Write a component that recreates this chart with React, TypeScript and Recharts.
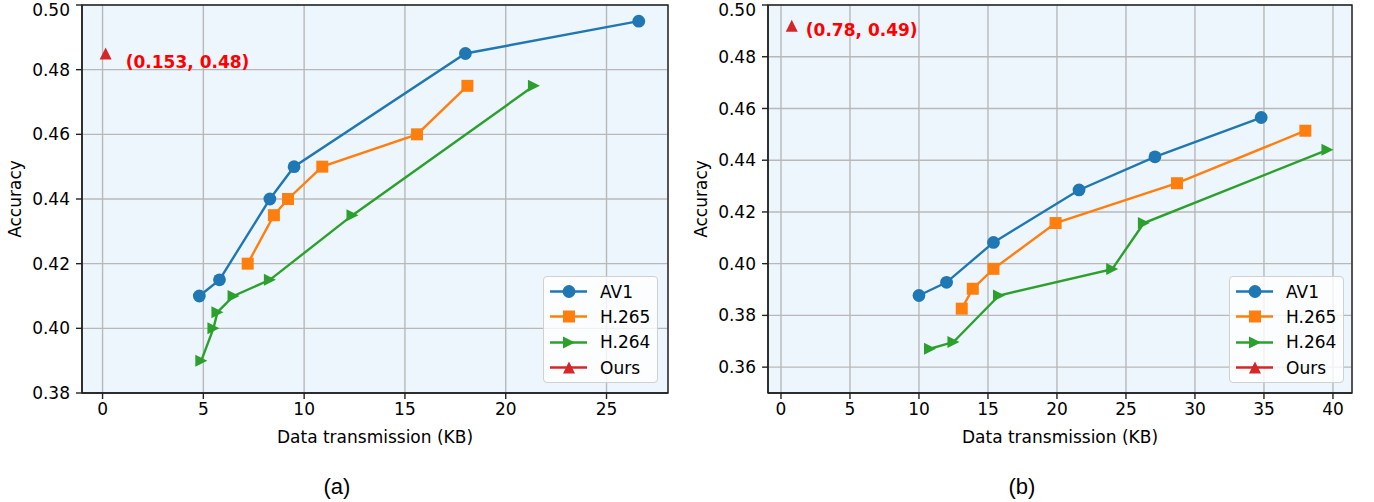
import {
  CartesianGrid,
  Label,
  Legend,
  ReferenceArea,
  ReferenceDot,
  Scatter,
  ScatterChart,
  XAxis,
  YAxis,
} from "recharts";

const seriesNames = ["AV1", "H.265", "H.264", "Ours"];
const seriesColors = ["#1f77b4", "#ff7f0e", "#2ca02c", "#d62728"];
const seriesMarkers = ["circle", "square", "triRight", "triUp"];

// panel (a)
const av1XA = [4.8, 5.8, 8.3, 9.5, 18.0, 26.6];
const av1YA = [0.41, 0.415, 0.44, 0.45, 0.485, 0.495];
const h265XA = [7.2, 8.5, 9.2, 10.9, 15.6, 18.1];
const h265YA = [0.42, 0.435, 0.44, 0.45, 0.46, 0.475];
const h264XA = [4.9, 5.5, 5.7, 6.5, 8.3, 12.4, 21.4];
const h264YA = [0.39, 0.4, 0.405, 0.41, 0.415, 0.435, 0.475];
const oursXA = [0.153];
const oursYA = [0.485];
const noteA = "(0.153, 0.48)";
const notePosA = [1.15, 0.4825];
const xTicksA = [0, 5, 10, 15, 20, 25];
const yTicksA = [0.38, 0.4, 0.42, 0.44, 0.46, 0.48, 0.5];
const xDomainA = [-1.02, 28.05];
const yDomainA = [0.38, 0.5];

// panel (b)
const av1XB = [10.0, 12.0, 15.4, 21.6, 27.1, 34.8];
const av1YB = [0.3877, 0.3928, 0.4082, 0.4285, 0.4413, 0.4565];
const h265XB = [13.1, 13.9, 15.4, 19.9, 28.7, 38.0];
const h265YB = [0.3826, 0.3903, 0.398, 0.4157, 0.4311, 0.4514];
const h264XB = [10.8, 12.5, 15.8, 24.0, 26.3, 39.6];
const h264YB = [0.3671, 0.3697, 0.3877, 0.3979, 0.4157, 0.444];
const oursXB = [0.78];
const oursYB = [0.492];
const noteB = "(0.78, 0.49)";
const notePosB = [1.8, 0.4902];
const xTicksB = [0, 5, 10, 15, 20, 25, 30, 35, 40];
const yTicksB = [0.36, 0.38, 0.4, 0.42, 0.44, 0.46, 0.48, 0.5];
const xDomainB = [-0.94, 41.38];
const yDomainB = [0.35, 0.5];

const FONT = "DejaVu Sans";
const FS = 17;
const MS = 12;

const zip = (xs: number[], ys: number[]) => xs.map((x, i) => ({ x, y: ys[i] }));

function markerPath(kind: string, cx: number, cy: number, color: string) {
  const h = MS / 2;
  if (kind === "circle") return <circle cx={cx} cy={cy} r={h + 0.4} fill={color} />;
  if (kind === "square")
    return <rect x={cx - h} y={cy - h} width={MS} height={MS} fill={color} />;
  if (kind === "triRight")
    return (
      <path
        d={`M${cx + h},${cy} L${cx - h},${cy - h} L${cx - h},${cy + h} Z`}
        fill={color}
      />
    );
  return (
    <path
      d={`M${cx},${cy - h} L${cx + h},${cy + h} L${cx - h},${cy + h} Z`}
      fill={color}
    />
  );
}

const shapeFor = (i: number) => (props: any) =>
  markerPath(seriesMarkers[i], props.cx, props.cy, seriesColors[i]);

function LegendBox() {
  return (
    <div
      style={{
        width: 115,
        height: 107,
        boxSizing: "border-box",
        border: "1px solid #d0d0d0",
        borderRadius: 4,
        background: "rgba(255,255,255,0.8)",
        paddingTop: 2,
        fontFamily: FONT,
        fontSize: FS,
        color: "#000",
      }}
    >
      {seriesNames.map((name, i) => (
        <div key={name} style={{ display: "flex", alignItems: "center", height: 25.3 }}>
          <svg width={56} height={25} style={{ flex: "none" }}>
            <line x1={6} x2={43} y1={12.5} y2={12.5} stroke={seriesColors[i]} strokeWidth={2.4} />
            {markerPath(seriesMarkers[i], 25, 12.5, seriesColors[i])}
          </svg>
          <span>{name}</span>
        </div>
      ))}
    </div>
  );
}

type PanelProps = {
  left: number;
  width: number;
  plotLeft: number;
  series: { x: number; y: number }[][];
  note: string;
  notePos: number[];
  xTicks: number[];
  yTicks: number[];
  xDomain: number[];
  yDomain: number[];
  legendLeft: number;
};

function Panel(p: PanelProps) {
  const height = 460;
  return (
    <div style={{ position: "absolute", left: p.left, top: 0, width: p.width, height }}>
      <ScatterChart
        width={p.width}
        height={height}
        margin={{ top: 5, right: 22, bottom: 27, left: p.plotLeft - 60 }}
      >
        <CartesianGrid fill="#eef6fd" fillOpacity={1} stroke="#b8b8b8" strokeWidth={1.4} />
        <XAxis
          type="number"
          dataKey="x"
          domain={p.xDomain}
          ticks={p.xTicks}
          allowDataOverflow
          height={40}
          tickSize={6}
          tickMargin={4}
          stroke="#222"
          strokeWidth={1.4}
          tick={{ fill: "#000", fontSize: FS, fontFamily: FONT }}
          tickFormatter={(v: number) => String(v)}
        >
          <Label
            content={(props: any) => {
              const vb = props.viewBox;
              return (
                <text
                  x={vb.x + vb.width / 2}
                  y={vb.y + 50}
                  textAnchor="middle"
                  fontFamily={FONT}
                  fontSize={FS}
                  fill="#000"
                >
                  Data transmission (KB)
                </text>
              );
            }}
          />
        </XAxis>
        <YAxis
          type="number"
          dataKey="y"
          domain={p.yDomain}
          ticks={p.yTicks}
          allowDataOverflow
          width={60}
          tickSize={6}
          tickMargin={6}
          stroke="#222"
          strokeWidth={1.4}
          tick={{ fill: "#000", fontSize: FS, fontFamily: FONT }}
          tickFormatter={(v: number) => v.toFixed(2)}
        >
          <Label
            content={(props: any) => {
              const vb = props.viewBox;
              const x = p.plotLeft - 67;
              const y = vb.y + vb.height / 2;
              return (
                <text
                  x={x}
                  y={y}
                  transform={`rotate(-90, ${x}, ${y})`}
                  textAnchor="middle"
                  dominantBaseline="central"
                  fontFamily={FONT}
                  fontSize={FS}
                  fill="#000"
                >
                  Accuracy
                </text>
              );
            }}
          />
        </YAxis>
        <ReferenceArea
          x1={p.xDomain[0]}
          x2={p.xDomain[1]}
          y1={p.yDomain[0]}
          y2={p.yDomain[1]}
          fill="none"
          stroke="#222"
          strokeWidth={1.4}
        />
        {p.series.map((data, i) => (
          <Scatter
            key={seriesNames[i]}
            name={seriesNames[i]}
            data={data}
            fill={seriesColors[i]}
            line={{ stroke: seriesColors[i], strokeWidth: 2.4 }}
            lineType="joint"
            shape={shapeFor(i)}
            isAnimationActive={false}
          />
        ))}
        <ReferenceDot
          x={p.notePos[0]}
          y={p.notePos[1]}
          shape={(props: any) => (
            <text
              x={props.cx}
              y={props.cy}
              dominantBaseline="central"
              fontFamily={FONT}
              fontWeight="bold"
              fontSize={FS}
              fill="#ff0000"
            >
              {p.note}
            </text>
          )}
        />
        <Legend
          layout="vertical"
          align="center"
          verticalAlign="middle"
          wrapperStyle={{ left: p.legendLeft, top: 276, width: 115, height: 107 }}
          content={() => <LegendBox />}
        />
      </ScatterChart>
    </div>
  );
}

const captionStyle = (cx: number): React.CSSProperties => ({
  position: "absolute",
  left: cx - 40,
  width: 80,
  top: 474,
  textAlign: "center",
  fontFamily: "Liberation Sans",
  fontSize: 22,
  color: "#000",
});

export default function App() {
  return (
    <div style={{ position: "absolute", left: 0, top: 0, width: 1374, height: 502, background: "#fff" }}>
      <Panel
        left={0}
        width={690}
        plotLeft={82}
        series={[zip(av1XA, av1YA), zip(h265XA, h265YA), zip(h264XA, h264YA), zip(oursXA, oursYA)]}
        note={noteA}
        notePos={notePosA}
        xTicks={xTicksA}
        yTicks={yTicksA}
        xDomain={xDomainA}
        yDomain={yDomainA}
        legendLeft={543}
      />
      <Panel
        left={690}
        width={684}
        plotLeft={78}
        series={[zip(av1XB, av1YB), zip(h265XB, h265YB), zip(h264XB, h264YB), zip(oursXB, oursYB)]}
        note={noteB}
        notePos={notePosB}
        xTicks={xTicksB}
        yTicks={yTicksB}
        xDomain={xDomainB}
        yDomain={yDomainB}
        legendLeft={539}
      />
      <div style={captionStyle(337)}>(a)</div>
      <div style={captionStyle(1022)}>(b)</div>
    </div>
  );
}
